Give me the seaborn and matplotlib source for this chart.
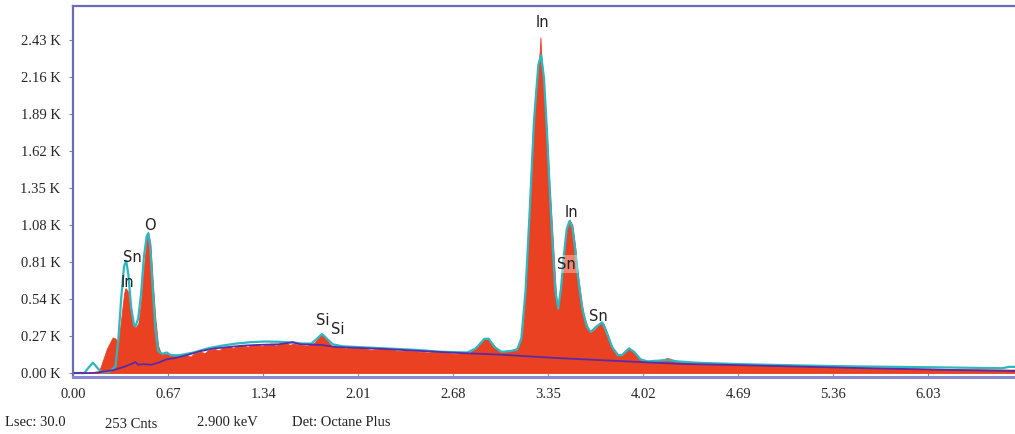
import matplotlib
matplotlib.use("Agg")
import matplotlib.pyplot as plt
import seaborn as sns

# measured spectrum (keV, counts in K)
spec_kev = [0.00, 0.18, 0.20, 0.22, 0.24, 0.26, 0.28, 0.30, 0.32, 0.34, 0.36, 0.37, 0.385,
            0.40, 0.42, 0.44, 0.46, 0.48, 0.50, 0.52, 0.53, 0.545, 0.56, 0.58, 0.60, 0.62,
            0.66, 0.70, 0.75, 0.80, 0.83, 0.85, 0.90, 0.93, 0.95, 1.00, 1.03, 1.05, 1.10,
            1.13, 1.15, 1.20, 1.23, 1.25, 1.30, 1.33, 1.35, 1.40, 1.43, 1.45, 1.50, 1.53,
            1.55, 1.60, 1.65, 1.70, 1.74, 1.76, 1.79, 1.82, 1.88, 1.92, 1.95, 2.05, 2.10,
            2.15, 2.25, 2.30, 2.35, 2.45, 2.50, 2.55, 2.65, 2.70, 2.75, 2.80, 2.85, 2.90,
            2.93, 2.97, 3.00, 3.05, 3.10, 3.14, 3.17, 3.20, 3.22, 3.24, 3.26, 3.28, 3.29,
            3.295, 3.30, 3.32, 3.34, 3.36, 3.38, 3.40, 3.41, 3.42, 3.44, 3.46, 3.48, 3.50,
            3.52, 3.54, 3.555, 3.58, 3.60, 3.63, 3.65, 3.68, 3.72, 3.74, 3.77, 3.80, 3.84,
            3.87, 3.91, 3.94, 3.98, 4.02, 4.07, 4.12, 4.19, 4.25, 4.35, 4.50, 4.70, 4.90,
            5.10, 5.40, 5.70, 6.00, 6.30, 6.64]
spec_cnt = [0, 0, 0.06, 0.12, 0.18, 0.22, 0.26, 0.25, 0.22, 0.40, 0.58, 0.62, 0.60,
            0.50, 0.38, 0.33, 0.36, 0.52, 0.78, 0.98, 1.03, 0.95, 0.70, 0.40, 0.20, 0.14,
            0.14, 0.125, 0.12, 0.13, 0.12, 0.14, 0.155, 0.145, 0.165, 0.175, 0.165, 0.185, 0.195,
            0.18, 0.195, 0.205, 0.19, 0.20, 0.21, 0.195, 0.205, 0.215, 0.20, 0.21, 0.22, 0.205,
            0.215, 0.205, 0.20, 0.22, 0.27, 0.28, 0.24, 0.20, 0.19, 0.18, 0.185, 0.18, 0.17,
            0.175, 0.17, 0.16, 0.165, 0.155, 0.15, 0.155, 0.145, 0.14, 0.145, 0.15, 0.20, 0.25,
            0.25, 0.20, 0.16, 0.16, 0.17, 0.19, 0.30, 0.80, 1.30, 1.75, 2.05, 2.25, 2.35,
            2.45, 2.33, 2.10, 1.75, 1.35, 1.00, 0.65, 0.50, 0.48, 0.65, 0.88, 1.06, 1.12,
            1.08, 0.92, 0.75, 0.55, 0.42, 0.33, 0.30, 0.32, 0.37, 0.36, 0.28, 0.19, 0.14,
            0.14, 0.18, 0.17, 0.12, 0.09, 0.08, 0.09, 0.11, 0.09, 0.075, 0.07, 0.06, 0.055,
            0.05, 0.045, 0.038, 0.033, 0.028, 0.025]

# fitted spectrum
fit_kev = [0.00, 0.08, 0.11, 0.14, 0.17, 0.20, 0.26, 0.30, 0.32, 0.34, 0.36, 0.375, 0.39,
           0.41, 0.43, 0.44, 0.46, 0.48, 0.50, 0.52, 0.53, 0.545, 0.56, 0.58, 0.60, 0.63,
           0.66, 0.69, 0.75, 0.85, 0.95, 1.05, 1.15, 1.25, 1.35, 1.45, 1.55, 1.62, 1.68,
           1.72, 1.755, 1.79, 1.83, 1.90, 2.00, 2.20, 2.40, 2.60, 2.78, 2.84, 2.90, 2.93,
           2.97, 3.02, 3.08, 3.13, 3.16, 3.19, 3.22, 3.25, 3.28, 3.30, 3.32, 3.34, 3.36,
           3.38, 3.40, 3.42, 3.44, 3.46, 3.48, 3.50, 3.52, 3.54, 3.56, 3.59, 3.62, 3.65,
           3.69, 3.73, 3.76, 3.80, 3.84, 3.87, 3.92, 3.96, 4.00, 4.05, 4.12, 4.19, 4.26,
           4.40, 4.70, 5.00, 5.40, 5.80, 6.20, 6.55, 6.60, 6.64]
fit_cnt = [0, 0, 0.04, 0.075, 0.04, 0.005, 0.01, 0.05, 0.25, 0.55, 0.78, 0.82, 0.72,
           0.48, 0.35, 0.34, 0.40, 0.58, 0.85, 1.00, 1.02, 0.92, 0.65, 0.33, 0.16, 0.14,
           0.15, 0.13, 0.13, 0.15, 0.18, 0.20, 0.215, 0.225, 0.23, 0.228, 0.222, 0.215, 0.215,
           0.25, 0.285, 0.25, 0.21, 0.195, 0.19, 0.18, 0.17, 0.155, 0.15, 0.18, 0.25, 0.25,
           0.19, 0.155, 0.16, 0.17, 0.25, 0.60, 1.20, 1.85, 2.25, 2.32, 2.15, 1.78, 1.35,
           0.95, 0.60, 0.47, 0.62, 0.86, 1.05, 1.11, 1.06, 0.90, 0.70, 0.47, 0.34, 0.30,
           0.34, 0.37, 0.30, 0.19, 0.13, 0.13, 0.18, 0.15, 0.10, 0.085, 0.09, 0.095, 0.085,
           0.075, 0.065, 0.058, 0.05, 0.045, 0.04, 0.035, 0.045, 0.045]

# background
bg_kev = [0.00, 0.14, 0.28, 0.36, 0.42, 0.44, 0.46, 0.50, 0.55, 0.60, 0.66, 0.72, 0.80,
          0.90, 1.00, 1.10, 1.20, 1.30, 1.45, 1.55, 1.60, 1.75, 1.85, 2.20, 2.70, 3.00,
          3.40, 3.70, 4.00, 4.30, 4.60, 5.00, 5.60, 6.20, 6.64]
bg_cnt = [0, 0, 0.02, 0.045, 0.07, 0.08, 0.06, 0.065, 0.06, 0.075, 0.10, 0.11, 0.13,
          0.16, 0.18, 0.19, 0.20, 0.205, 0.21, 0.225, 0.21, 0.205, 0.19, 0.175, 0.147, 0.135,
          0.11, 0.095, 0.08, 0.066, 0.06, 0.05, 0.035, 0.022, 0.015]

peak_names = ["In", "O", "Sn", "In", "Si", "Si", "In", "Sn", "Sn"]
peak_kev = [3.31, 0.54, 0.42, 0.385, 1.76, 1.865, 3.515, 3.48, 3.70]
peak_lbl_y = [2.56, 1.08, 0.84, 0.66, 0.38, 0.32, 1.175, 0.795, 0.41]

x_ticks = [0.00, 0.67, 1.34, 2.01, 2.68, 3.35, 4.02, 4.69, 5.36, 6.03]
y_ticks = [0.00, 0.27, 0.54, 0.81, 1.08, 1.35, 1.62, 1.89, 2.16, 2.43]

sns.set_theme(style="white")
plt.rcParams["font.family"] = ["Liberation Serif", "DejaVu Serif"]

fig = plt.figure(figsize=(10.15, 4.34), dpi=100)
ax = fig.add_axes([73 / 1015, 1 - 377 / 434, (1015 - 73) / 1015, (377 - 6) / 434])

ax.fill_between(spec_kev, spec_cnt, 0, color="#ea4122", linewidth=0.6, edgecolor="#ea4122")
sns.lineplot(x=fit_kev, y=fit_cnt, ax=ax, color="#2bb8c2", linewidth=1.6, sort=False)
sns.lineplot(x=bg_kev, y=bg_cnt, ax=ax, color="#5a2ba6", linewidth=1.3, sort=False)

for i, (name, ex, ey) in enumerate(zip(peak_names, peak_kev, peak_lbl_y)):
    box = None
    if i == 7:
        box = dict(boxstyle="square,pad=0.1", facecolor="white", alpha=0.35, edgecolor="none")
    ax.text(ex, ey, name, ha="center", va="center", fontsize=10.5, color="#222222",
            family=["DejaVu Sans"], bbox=box)

ax.set_xlim(0, 6.64)
ax.set_ylim(-0.029, 2.679)
ax.set_xticks(x_ticks)
ax.set_xticklabels([f"{v:.2f}" for v in x_ticks])
ax.set_yticks(y_ticks)
ax.set_yticklabels([f"{v:.2f} K" for v in y_ticks])
ax.tick_params(axis="x", direction="in", length=3, width=0.8, color="#8888cc",
               labelsize=10.5, pad=8, bottom=True)
ax.tick_params(axis="y", direction="out", length=3, width=0.8, color="#888888",
               labelsize=10.5, pad=6, left=True)

for side in ["left", "top", "bottom"]:
    ax.spines[side].set_color("#6a6abf")
    ax.spines[side].set_linewidth(1.6)
ax.spines["right"].set_visible(False)
ax.spines["bottom"].set_linewidth(2.2)
ax.spines["bottom"].set_color("#8a8ad0")

fig.text(5 / 1015, 1 - 422 / 434, "Lsec: 30.0", fontsize=10.5, va="center", color="#222222")
fig.text(105 / 1015, 1 - 424 / 434, "253 Cnts", fontsize=10.5, va="center", color="#222222")
fig.text(197 / 1015, 1 - 422 / 434, "2.900 keV", fontsize=10.5, va="center", color="#222222")
fig.text(292 / 1015, 1 - 422 / 434, "Det: Octane Plus", fontsize=10.5, va="center", color="#222222")

fig.savefig("out.png", dpi=100, facecolor="white")
